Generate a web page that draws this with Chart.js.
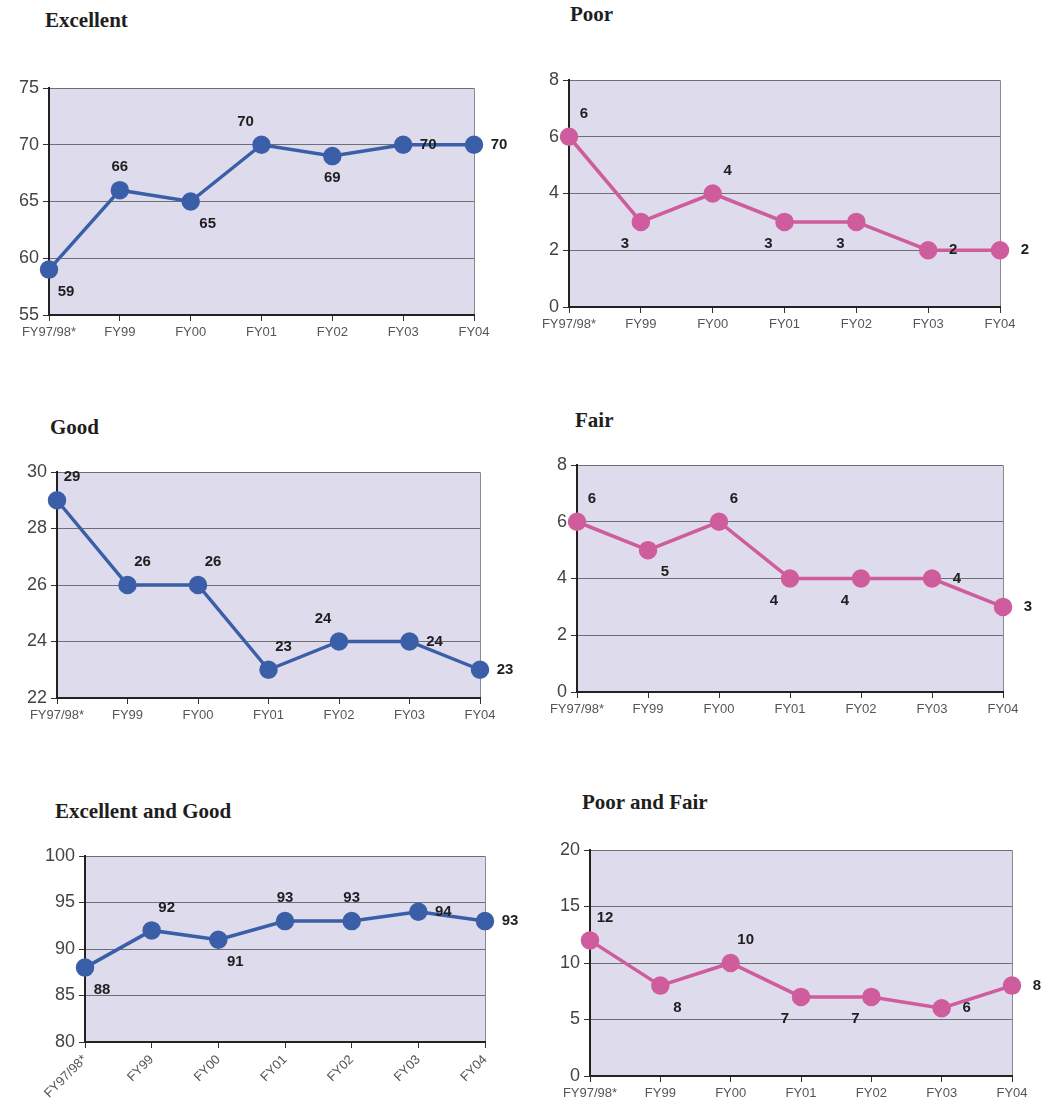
<!DOCTYPE html>
<html>
<head>
<meta charset="utf-8">
<script src="https://cdn.jsdelivr.net/npm/chart.js@4.4.1/dist/chart.umd.min.js"></script>
<style>
  html, body { margin: 0; padding: 0; background: #ffffff; }
  #page { position: relative; width: 1051px; height: 1120px; overflow: hidden; }
  .title { position: absolute; font-family: "Liberation Serif", "DejaVu Serif", serif; font-weight: bold; font-size: 21px; color: #1e1e1e; white-space: nowrap; }
  .panel { position: absolute; }
</style>
</head>
<body>
<div id="page"></div>
<script>
// Fiscal years shown on every panel
const fiscalYears = ["FY97/98*", "FY99", "FY00", "FY01", "FY02", "FY03", "FY04"];

// Percent of ratings per category
const excellentPct = [59, 66, 65, 70, 69, 70, 70];
const poorPct = [6, 3, 4, 3, 3, 2, 2];
const goodPct = [29, 26, 26, 23, 24, 24, 23];
const fairPct = [6, 5, 6, 4, 4, 4, 3];
const excellentGoodPct = [88, 92, 91, 93, 93, 94, 93];
const poorFairPct = [12, 8, 10, 7, 7, 6, 8];

// Y axis ranges (min, max, step)
const excellentAxis = [55, 75, 5];
const poorAxis = [0, 8, 2];
const goodAxis = [22, 30, 2];
const fairAxis = [0, 8, 2];
const excellentGoodAxis = [80, 100, 5];
const poorFairAxis = [0, 20, 5];

const BLUE = "#3b5ea8";
const PINK = "#cf5c9c";
const PLOT_BG = "#dedbec";

// Value label placement relative to each point
const OFFSETS = {
  n:  [0, -23],
  ne: [15, -23],
  nw: [-16, -23],
  e:  [25, 0],
  se: [17, 22],
  s:  [0, 22],
  sw: [-16, 22]
};

const plotFrame = {
  id: "plotFrame",
  beforeDraw(chart) {
    const { ctx, chartArea: a } = chart;
    ctx.save();
    ctx.fillStyle = PLOT_BG;
    ctx.fillRect(a.left, a.top, a.right - a.left, a.bottom - a.top);
    ctx.strokeStyle = "#8a8a92";
    ctx.lineWidth = 1;
    ctx.beginPath();
    ctx.moveTo(a.left, a.top + 0.5);
    ctx.lineTo(a.right + 0.5, a.top + 0.5);
    ctx.lineTo(a.right + 0.5, a.bottom);
    ctx.stroke();
    ctx.restore();
  }
};

const valueLabels = {
  id: "valueLabels",
  afterDatasetsDraw(chart) {
    const { ctx } = chart;
    const ds = chart.data.datasets[0];
    const meta = chart.getDatasetMeta(0);
    const places = chart.options.plugins.valueLabels.places;
    ctx.save();
    ctx.font = "bold 15px 'Liberation Sans', Arial, sans-serif";
    ctx.fillStyle = "#1e1e1e";
    ctx.textAlign = "center";
    ctx.textBaseline = "middle";
    meta.data.forEach((pt, i) => {
      const off = OFFSETS[places[i]];
      ctx.fillText(String(ds.data[i]), pt.x + off[0], pt.y + off[1]);
    });
    ctx.restore();
  }
};

function makePanel(cfg) {
  const page = document.getElementById("page");
  const t = document.createElement("div");
  t.className = "title";
  t.textContent = cfg.title;
  t.style.left = cfg.titlePos[0] + "px";
  t.style.top = cfg.titlePos[1] + "px";
  page.appendChild(t);

  const wrap = document.createElement("div");
  wrap.className = "panel";
  wrap.style.left = cfg.box[0] + "px";
  wrap.style.top = cfg.box[1] + "px";
  wrap.style.width = cfg.box[2] + "px";
  wrap.style.height = cfg.box[3] + "px";
  const canvas = document.createElement("canvas");
  canvas.width = cfg.box[2];
  canvas.height = cfg.box[3];
  wrap.appendChild(canvas);
  page.appendChild(wrap);

  const [ymin, ymax, ystep] = cfg.axis;
  new Chart(canvas, {
    type: "line",
    data: {
      labels: fiscalYears,
      datasets: [{
        data: cfg.values,
        borderColor: cfg.color,
        backgroundColor: cfg.color,
        borderWidth: 3.5,
        pointRadius: 7.5,
        pointHoverRadius: 7.5,
        pointBackgroundColor: cfg.color,
        pointBorderColor: cfg.color,
        tension: 0,
        clip: false
      }]
    },
    options: {
      responsive: false,
      animation: false,
      events: [],
      layout: { padding: { top: cfg.pad[0], right: cfg.pad[1], bottom: 0, left: 0 } },
      plugins: {
        legend: { display: false },
        tooltip: { enabled: false },
        valueLabels: { places: cfg.places }
      },
      scales: {
        x: {
          offset: false,
          afterFit(scale) { scale.height = cfg.xH; },
          grid: { display: true, drawOnChartArea: false, drawTicks: true, tickLength: 6, tickColor: "#333", color: "#333" },
          border: { display: true, color: "#222", width: 2 },
          ticks: {
            color: "#555",
            font: { family: "'Liberation Sans', Arial, sans-serif", size: 13 },
            padding: 4,
            autoSkip: false,
            maxRotation: cfg.rotate,
            minRotation: cfg.rotate
          }
        },
        y: {
          min: ymin,
          max: ymax,
          afterFit(scale) { scale.width = cfg.yW; },
          grid: { color: "#6e6e76", lineWidth: 1, drawTicks: true, tickLength: 6, tickColor: "#333" },
          border: { display: true, color: "#222", width: 2 },
          ticks: {
            stepSize: ystep,
            color: "#444",
            font: { family: "'Liberation Sans', Arial, sans-serif", size: 18 },
            padding: 4
          }
        }
      }
    },
    plugins: [plotFrame, valueLabels]
  });
}

makePanel({
  title: "Excellent", titlePos: [45, 8], box: [0, 70, 530, 280],
  pad: [18, 56], yW: 49, xH: 35, rotate: 0,
  values: excellentPct, axis: excellentAxis, color: BLUE,
  places: ["se", "n", "se", "nw", "s", "e", "e"]
});
makePanel({
  title: "Poor", titlePos: [570, 2], box: [520, 60, 531, 290],
  pad: [20, 51], yW: 49, xH: 43, rotate: 0,
  values: poorPct, axis: poorAxis, color: PINK,
  places: ["ne", "sw", "ne", "sw", "sw", "e", "e"]
});
makePanel({
  title: "Good", titlePos: [50, 415], box: [0, 450, 530, 290],
  pad: [22, 50], yW: 57, xH: 42, rotate: 0,
  values: goodPct, axis: goodAxis, color: BLUE,
  places: ["ne", "ne", "ne", "ne", "nw", "e", "e"]
});
makePanel({
  title: "Fair", titlePos: [575, 408], box: [520, 445, 531, 290],
  pad: [20, 48], yW: 57, xH: 43, rotate: 0,
  values: fairPct, axis: fairAxis, color: PINK,
  places: ["ne", "se", "ne", "sw", "sw", "e", "e"]
});
makePanel({
  title: "Excellent and Good", titlePos: [55, 799], box: [0, 835, 530, 285],
  pad: [21, 45], yW: 85, xH: 78, rotate: 45,
  values: excellentGoodPct, axis: excellentGoodAxis, color: BLUE,
  places: ["se", "ne", "se", "n", "n", "e", "e"]
});
makePanel({
  title: "Poor and Fair", titlePos: [582, 790], box: [520, 830, 531, 290],
  pad: [20, 39], yW: 70, xH: 44, rotate: 0,
  values: poorFairPct, axis: poorFairAxis, color: PINK,
  places: ["ne", "se", "ne", "sw", "sw", "e", "e"]
});
</script>
</body>
</html>
